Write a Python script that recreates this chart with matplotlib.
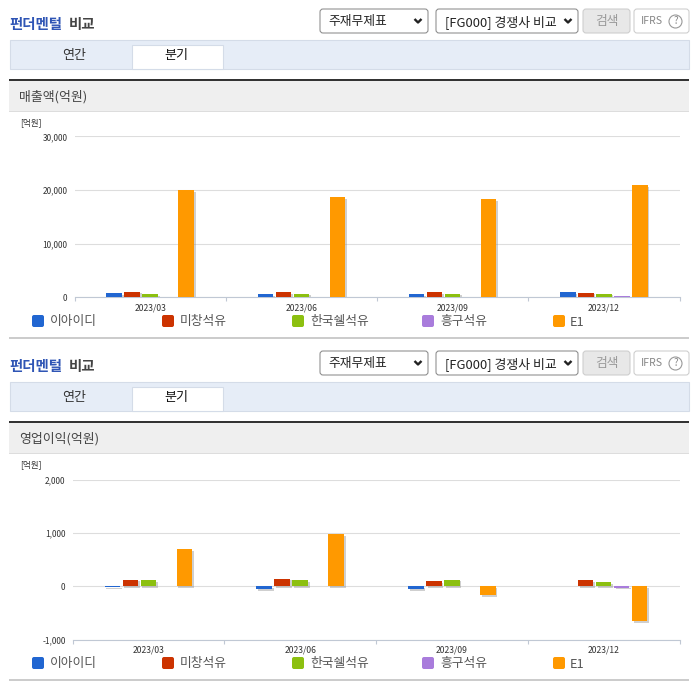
import matplotlib
matplotlib.use("Agg")
import matplotlib.pyplot as plt
import matplotlib.patheffects as pe
from matplotlib.patches import Rectangle, FancyBboxPatch, Circle
from matplotlib.ticker import FixedLocator, FixedFormatter, NullFormatter

plt.rcParams['font.family'] = ['Noto Sans CJK KR', 'DejaVu Sans']

quarters = ['2023/03', '2023/06', '2023/09', '2023/12']
companies = ['이아이디', '미창석유', '한국쉘석유', '흥구석유', 'E1']
colors = ['#2166d1', '#cc3300', '#8cc010', '#a97cdc', '#ff9900']

revenue_iid = [750, 600, 650, 950]
revenue_michang = [1100, 1050, 950, 900]
revenue_shell = [650, 700, 700, 700]
revenue_heungu = [150, 150, 150, 250]
revenue_e1 = [20000, 18700, 18300, 20900]

profit_iid = [-20, -60, -60, 0]
profit_michang = [120, 140, 100, 110]
profit_shell = [110, 110, 120, 70]
profit_heungu = [0, 0, 0, -25]
profit_e1 = [700, 980, -170, -650]

revenue = [revenue_iid, revenue_michang, revenue_shell, revenue_heungu, revenue_e1]
profit = [profit_iid, profit_michang, profit_shell, profit_heungu, profit_e1]

W, H = 696, 684
fig = plt.figure(figsize=(W / 100, H / 100), dpi=100, facecolor='white')
bg = fig.add_axes([0, 0, 1, 1])
bg.set_xlim(0, W)
bg.set_ylim(H, 0)
bg.axis('off')


def rect(x0, y0, x1, y1, fc, ec='none', lw=0.0, z=1):
    bg.add_patch(Rectangle((x0, y0), x1 - x0, y1 - y0, fc=fc, ec=ec, lw=lw, zorder=z))


def rrect(x0, y0, x1, y1, fc, ec, z=2):
    bg.add_patch(FancyBboxPatch((x0 + 2, y0 + 2), x1 - x0 - 4, y1 - y0 - 4,
                                boxstyle='round,pad=2,rounding_size=3',
                                fc=fc, ec=ec, lw=0.75, zorder=z))


def chevron(x, y):
    bg.plot([x - 3.5, x, x + 3.5], [y - 2, y + 1.5, y - 2], color='#222222', lw=1.7, zorder=4,
            solid_capstyle='butt')


def chrome(dy, section, legend_y, rule_y):
    bg.text(9, 24.5 + dy, '펀더멘털', color='#2f55b5', fontsize=10.4, fontweight='bold', va='center', ha='left')
    bg.text(69, 24.5 + dy, '비교', color='#444444', fontsize=10.4, fontweight='bold', va='center', ha='left')

    rrect(320, 9 + dy, 428, 33 + dy, 'white', '#8a8a8a')
    bg.text(328, 22 + dy, '주재무제표', fontsize=9.2, color='#222222', va='center', ha='left', zorder=4)
    chevron(418, 21 + dy)
    rrect(436, 9 + dy, 578, 33 + dy, 'white', '#8a8a8a')
    bg.text(445, 22 + dy, '[FG000] 경쟁사 비교', fontsize=9.3, color='#222222', va='center', ha='left', zorder=4)
    chevron(568, 21 + dy)
    rrect(583, 9 + dy, 630, 33 + dy, '#e8e8e8', '#cccccc')
    bg.text(606.5, 21 + dy, '검색', fontsize=9.2, color='#999999', va='center', ha='center', zorder=4)
    rrect(634, 9 + dy, 689, 33 + dy, 'white', '#cccccc')
    bg.text(641, 21 + dy, 'IFRS', fontsize=7.6, color='#888888', va='center', ha='left', zorder=4)
    bg.add_patch(Circle((675.5, 21.5 + dy), 6.5, fc='white', ec='#999999', lw=0.8, zorder=3))
    bg.text(675.5, 21.5 + dy, '?', fontsize=7, color='#888888', va='center', ha='center', zorder=4)

    rect(9.5, 39.5 + dy, 688.5, 68.5 + dy, '#e6edf7', '#d4dce8', 0.8)
    rect(131.5, 44.5 + dy, 222.5, 68.5 + dy, 'white', '#d4dce8', 0.8, z=2)
    bg.text(74, 56 + dy, '연간', fontsize=9.4, color='#333333', va='center', ha='center', zorder=4)
    bg.text(176, 56 + dy, '분기', fontsize=9.4, color='#111111', va='center', ha='center', zorder=4)

    rect(9, 79 + dy, 689, 81 + dy, '#333333')
    rect(9, 81 + dy, 689, 111 + dy, '#efefef')
    rect(9, 110.5 + dy, 689, 111.5 + dy, '#dddddd')
    bg.text(19, 97 + dy, section, fontsize=9.3, color='#444444', va='center', ha='left')
    bg.text(20, 123 + dy, '[억원]', fontsize=6.2, color='#333333', va='center', ha='left')

    for name, color, sx, tx in zip(companies, colors, [32, 162, 292, 422, 553], [50, 180, 310, 440, 570]):
        bg.add_patch(FancyBboxPatch((sx + 1.5, legend_y - 4.5), 9, 9,
                                    boxstyle='round,pad=1.5,rounding_size=2', fc=color, ec='none'))
        bg.text(tx, legend_y + 1, name, fontsize=9.2, color='#555555', va='center', ha='left')
    rect(9, rule_y - 1, 689, rule_y + 1, '#cccccc')


def chart(series, left, right, top, bottom, ymin, ymax, ticks, labels, width_px=15.5, pitch_px=18):
    ax = fig.add_axes([left / W, 1 - bottom / H, (right - left) / W, (bottom - top) / H])
    ax.patch.set_alpha(0)
    group_px = (right - left) / 4
    for i, (values, color) in enumerate(zip(series, colors)):
        xs = [q + (i - 2) * pitch_px / group_px for q in range(4)]
        ax.bar(xs, values, width=width_px / group_px, color=color, zorder=3,
               path_effects=[pe.SimplePatchShadow(offset=(1.2, -1.2), shadow_rgbFace='#888888', alpha=0.4),
                             pe.Normal()])
    ax.set_xlim(-0.5, 3.5)
    ax.set_ylim(ymin, ymax)
    ax.set_yticks(ticks, labels)
    ax.yaxis.grid(True, color='#dddddd', lw=0.8, zorder=0)
    ax.set_axisbelow(True)
    ax.tick_params(axis='y', length=0, pad=5, labelsize=6, labelcolor='#333333')
    ax.xaxis.set_major_locator(FixedLocator([-0.5, 0.5, 1.5, 2.5, 3.5]))
    ax.xaxis.set_major_formatter(NullFormatter())
    ax.xaxis.set_minor_locator(FixedLocator(range(4)))
    ax.xaxis.set_minor_formatter(FixedFormatter(quarters))
    ax.tick_params(axis='x', which='major', length=3, color='#c0c8d4', width=0.8)
    ax.tick_params(axis='x', which='minor', length=0, pad=4, labelsize=6.2, labelcolor='#333333')
    for s in ['top', 'left', 'right']:
        ax.spines[s].set_visible(False)
    ax.spines['bottom'].set_color('#c0c8d4')
    ax.spines['bottom'].set_linewidth(0.8)
    return ax


chrome(0, '매출액(억원)', 321, 338)
chrome(342, '영업이익(억원)', 663, 680)

chart(revenue, 74.5, 679.5, 136.5, 297.5, 0, 30000,
      [0, 10000, 20000, 30000], ['0', '10,000', '20,000', '30,000'])
chart(profit, 72.5, 679.5, 479.5, 639.5, -1000, 2000,
      [-1000, 0, 1000, 2000], ['-1,000', '0', '1,000', '2,000'])

fig.savefig('out.png', dpi=100, facecolor='white')
